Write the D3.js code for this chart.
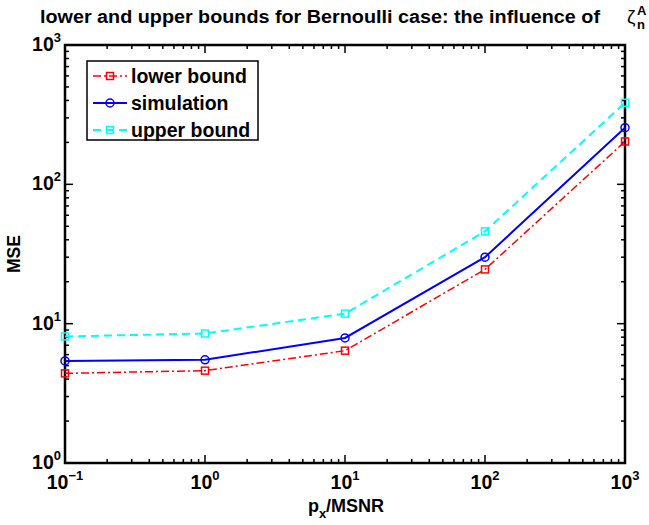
<html>
<head>
<style>
  body { margin: 0; background: #fff; }
  text { font-family: "Liberation Sans", Arial, sans-serif; font-weight: bold; }
</style>
</head>
<body>
<script src="https://cdn.jsdelivr.net/npm/d3@7"></script>
<script>
var pxMsnr = [0.1, 1, 10, 100, 1000]
var lowerBound = [4.4, 4.6, 6.4, 24.5, 203]
var simulation = [5.4, 5.5, 7.9, 30, 255]
var upperBound = [8.1, 8.5, 11.8, 46, 385]
var xTickExp = [-1, 0, 1, 2, 3]
var yTickExp = [0, 1, 2, 3]

var width = 649, height = 525
var m = {left: 65, right: 24, top: 45, bottom: 62}

var svg = d3.select('body').append('svg')
  .attr('width', width).attr('height', height)

var x = d3.scaleLog().domain([0.1, 1000]).range([m.left, width - m.right])
var y = d3.scaleLog().domain([1, 1000]).range([height - m.bottom, m.top])

// minor + major ticks, all four sides, pointing inward
var xTicks = x.ticks(), yTicks = y.ticks()
var g = svg.append('g').attr('stroke', '#000').attr('stroke-width', 1.5)
function isMajor(v) { return Math.abs(Math.log10(v) - Math.round(Math.log10(v))) < 1e-9 }
xTicks.forEach(function(v) {
  var len = isMajor(v) ? 8 : 4
  g.append('line').attr('x1', x(v)).attr('x2', x(v)).attr('y1', y(1)).attr('y2', y(1) - len)
  g.append('line').attr('x1', x(v)).attr('x2', x(v)).attr('y1', y(1000)).attr('y2', y(1000) + len)
})
yTicks.forEach(function(v) {
  var len = isMajor(v) ? 8 : 4
  g.append('line').attr('y1', y(v)).attr('y2', y(v)).attr('x1', x(0.1)).attr('x2', x(0.1) + len)
  g.append('line').attr('y1', y(v)).attr('y2', y(v)).attr('x1', x(1000)).attr('x2', x(1000) - len)
})
svg.append('rect')
  .attr('x', x(0.1)).attr('y', y(1000))
  .attr('width', x(1000) - x(0.1)).attr('height', y(1) - y(1000))
  .attr('fill', 'none').attr('stroke', '#000').attr('stroke-width', 2.5)

// tick labels
xTickExp.forEach(function(e) {
  var t = svg.append('text').attr('x', x(Math.pow(10, e))).attr('y', 489)
    .attr('text-anchor', 'middle').attr('font-size', 19.5)
  t.append('tspan').text('10')
  t.append('tspan').attr('dy', -9).attr('font-size', 13).text(e < 0 ? '\u2212' + (-e) : e)
})
yTickExp.forEach(function(e) {
  var t = svg.append('text').attr('x', 61).attr('y', y(Math.pow(10, e)) + 6)
    .attr('text-anchor', 'end').attr('font-size', 19.5)
  t.append('tspan').text('10')
  t.append('tspan').attr('dy', -9).attr('font-size', 13).text(e)
})

// axis titles
var xl = svg.append('text').attr('x', 346).attr('y', 512).attr('text-anchor', 'middle').attr('font-size', 18)
xl.append('tspan').text('p')
xl.append('tspan').attr('dy', 6).attr('font-size', 13).text('x')
xl.append('tspan').attr('dy', -6).text('/MSNR')
svg.append('text').attr('transform', 'translate(20,' + ((m.top + height - m.bottom) / 2) + ') rotate(-90)')
  .attr('text-anchor', 'middle').attr('font-size', 17.5).text('MSE')

// title
var tt = svg.append('text').attr('x', 40).attr('y', 23).attr('font-size', 18)
tt.append('tspan').attr('textLength', 560).attr('lengthAdjust', 'spacingAndGlyphs')
  .text('lower and upper bounds for Bernoulli case: the influence of')
tt.append('tspan').attr('x', 627).attr('font-size', 19).attr('font-weight', 'normal').text('\u03b6')
tt.append('tspan').attr('x', 637).attr('dy', -8).attr('font-size', 13).text('A')
tt.append('tspan').attr('x', 637).attr('dy', 14).attr('font-size', 13).text('n')

var series = [
  {name: 'lower bound', vals: lowerBound, color: '#ff0000', dash: '8,3,2,3', w: 1.5, mark: 'square'},
  {name: 'simulation', vals: simulation, color: '#0000ff', dash: null, w: 2, mark: 'circle'},
  {name: 'upper bound', vals: upperBound, color: '#00ffff', dash: '8,5', w: 2, mark: 'square'}
]

var line = d3.line().x(function(d) { return x(d[0]) }).y(function(d) { return y(d[1]) })

function marker(sel, s, cx, cy) {
  if (s.mark === 'circle') {
    sel.append('circle').attr('cx', cx).attr('cy', cy).attr('r', 4)
      .attr('fill', 'none').attr('stroke', s.color).attr('stroke-width', 1.5)
  } else {
    sel.append('rect').attr('x', cx - 3.5).attr('y', cy - 3.5).attr('width', 7).attr('height', 7)
      .attr('fill', 'none').attr('stroke', s.color).attr('stroke-width', 1.5)
  }
}

series.forEach(function(s) {
  var pts = pxMsnr.map(function(v, i) { return [v, s.vals[i]] })
  svg.append('path').attr('d', line(pts)).attr('fill', 'none')
    .attr('stroke', s.color).attr('stroke-width', s.w)
    .attr('stroke-dasharray', s.dash)
  pts.forEach(function(p) { marker(svg, s, x(p[0]), y(p[1])) })
})

// legend
var lg = svg.append('g')
lg.append('rect').attr('x', 87).attr('y', 61).attr('width', 171).attr('height', 79)
  .attr('fill', '#fff').attr('stroke', '#000').attr('stroke-width', 1.5)
series.forEach(function(s, i) {
  var ly = 76 + i * 27
  lg.append('line').attr('x1', 93).attr('x2', 127).attr('y1', ly).attr('y2', ly)
    .attr('stroke', s.color).attr('stroke-width', s.w).attr('stroke-dasharray', s.dash)
  marker(lg, s, 110, ly)
  lg.append('text').attr('x', 131).attr('y', ly + 7).attr('font-size', 19.5).text(s.name)
})
</script>
</body>
</html>
